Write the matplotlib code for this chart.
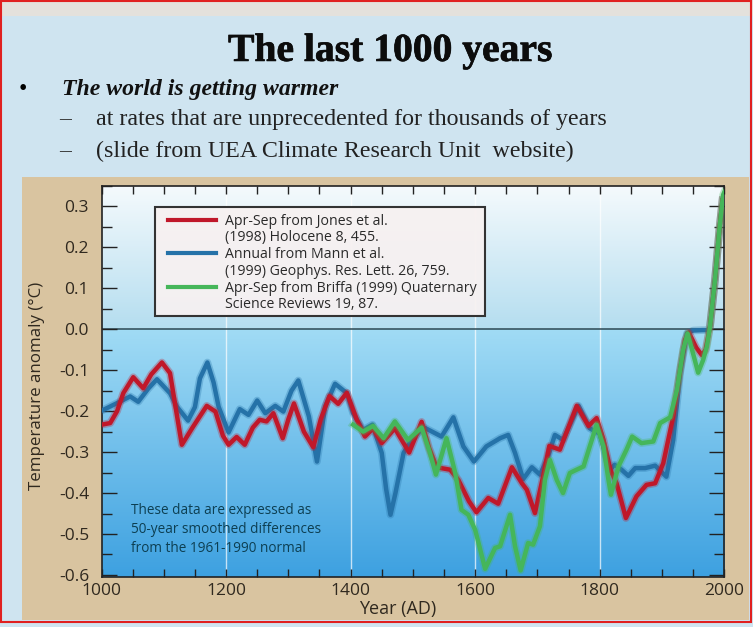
import numpy as np
import matplotlib
matplotlib.use("Agg")
import matplotlib.pyplot as plt
import matplotlib.patheffects as pe
from matplotlib.lines import Line2D
from matplotlib.patches import Rectangle
from matplotlib.ticker import MultipleLocator, FormatStrFormatter

# --- data ---
jones_years = [1000, 1014, 1025, 1035, 1051, 1067, 1080, 1097, 1110, 1120, 1129, 1147, 1169, 1183,
               1195, 1204, 1217, 1230, 1243, 1254, 1265, 1276, 1291, 1300, 1309, 1325, 1340, 1352,
               1366, 1380, 1394, 1410, 1423, 1436, 1450, 1471, 1494, 1514, 1526, 1538, 1560, 1573,
               1590, 1602, 1621, 1637, 1659, 1675, 1683, 1696, 1709, 1719, 1736, 1763, 1782, 1795,
               1806, 1817, 1827, 1842, 1859, 1875, 1889, 1902, 1918, 1929, 1937, 1943, 1955, 1964,
               1970, 1977, 1985, 1992, 1997]
jones_vals = [-0.233, -0.229, -0.200, -0.156, -0.117, -0.144, -0.110, -0.081, -0.107, -0.200, -0.282,
              -0.238, -0.187, -0.201, -0.260, -0.282, -0.263, -0.282, -0.240, -0.221, -0.225, -0.205,
              -0.266, -0.220, -0.181, -0.250, -0.288, -0.220, -0.163, -0.182, -0.155, -0.221, -0.262,
              -0.242, -0.278, -0.242, -0.301, -0.226, -0.290, -0.337, -0.343, -0.368, -0.420, -0.447,
              -0.412, -0.426, -0.337, -0.376, -0.392, -0.449, -0.360, -0.285, -0.294, -0.187, -0.236,
              -0.217, -0.270, -0.343, -0.376, -0.461, -0.408, -0.380, -0.376, -0.327, -0.213, -0.099,
              -0.026, -0.008, -0.045, -0.063, -0.050, 0.006, 0.120, 0.242, 0.315]

mann_years = [1000, 1024, 1046, 1059, 1075, 1089, 1110, 1121, 1139, 1150, 1158, 1170, 1180, 1188,
              1204, 1222, 1236, 1250, 1263, 1279, 1292, 1305, 1316, 1333, 1346, 1359, 1375, 1394,
              1404, 1420, 1435, 1450, 1457, 1464, 1472, 1485, 1498, 1517, 1546, 1565, 1581, 1598,
              1618, 1640, 1653, 1664, 1677, 1691, 1704, 1715, 1728, 1741, 1766, 1784, 1800, 1816,
              1824, 1835, 1846, 1857, 1873, 1889, 1907, 1918, 1929, 1940, 1950, 1965, 1974, 1977,
              1985, 1992, 1997]
mann_vals = [-0.199, -0.181, -0.164, -0.177, -0.145, -0.122, -0.156, -0.189, -0.223, -0.190, -0.120,
             -0.081, -0.130, -0.189, -0.252, -0.195, -0.209, -0.174, -0.205, -0.187, -0.201, -0.150,
             -0.125, -0.213, -0.323, -0.189, -0.133, -0.156, -0.205, -0.246, -0.233, -0.302, -0.390,
             -0.453, -0.400, -0.302, -0.270, -0.239, -0.262, -0.215, -0.286, -0.323, -0.286, -0.266,
             -0.258, -0.302, -0.366, -0.337, -0.355, -0.319, -0.258, -0.270, -0.187, -0.242, -0.255,
             -0.343, -0.331, -0.343, -0.358, -0.339, -0.339, -0.333, -0.360, -0.270, -0.107, -0.010,
             -0.003, -0.002, -0.002, 0.006, 0.120, 0.242, 0.315]

briffa_years = [1404, 1420, 1436, 1453, 1471, 1492, 1514, 1527, 1537, 1554, 1568, 1578, 1589, 1600,
                1616, 1632, 1640, 1656, 1664, 1673, 1685, 1693, 1704, 1712, 1720, 1731, 1741, 1752,
                1760, 1774, 1784, 1795, 1806, 1814, 1818, 1830, 1843, 1852, 1867, 1886, 1897, 1913,
                1924, 1934, 1941, 1950, 1958, 1966, 1972, 1977, 1985, 1992, 1998, 2000]
briffa_vals = [-0.233, -0.250, -0.236, -0.266, -0.225, -0.270, -0.240, -0.300, -0.355, -0.266, -0.351,
               -0.441, -0.453, -0.490, -0.585, -0.534, -0.530, -0.453, -0.530, -0.589, -0.522, -0.526,
               -0.481, -0.368, -0.319, -0.368, -0.400, -0.351, -0.345, -0.335, -0.286, -0.233, -0.286,
               -0.368, -0.404, -0.335, -0.294, -0.262, -0.278, -0.274, -0.229, -0.215, -0.148, -0.050,
               -0.010, -0.060, -0.106, -0.075, -0.042, 0.006, 0.120, 0.242, 0.328, 0.335]

legend_lines = ["Apr-Sep from Jones et al.", "(1998) Holocene 8, 455.",
                "Annual from Mann et al.", "(1999) Geophys. Res. Lett. 26, 759.",
                "Apr-Sep from Briffa (1999) Quaternary", "Science Reviews 19, 87."]

RED = "#c0182a"
BLUE = "#2572a8"
GREEN = "#45b65a"
SANS = ["Open Sans", "DejaVu Sans"]
SERIF = ["Liberation Serif", "DejaVu Serif"]

fig = plt.figure(figsize=(7.53, 6.27), dpi=100)
fig.patch.set_facecolor("#cfe4f0")

# slide decorations (behind the axes)
fig.patches.append(Rectangle((0, 1 - 16 / 627), 1, 16 / 627, transform=fig.transFigure,
                             facecolor="#e4e1dc", edgecolor="none", zorder=-2))
fig.patches.append(Rectangle((22 / 753, 7 / 627), 727 / 753, 443 / 627, transform=fig.transFigure,
                             facecolor="#d9c4a0", edgecolor="none", zorder=-1))
fig.patches.append(Rectangle((1 / 753, 5 / 627), 750 / 753, 621 / 627, transform=fig.transFigure,
                             facecolor="none", edgecolor="#e02020", linewidth=1.5, zorder=10))

fig.text(0.518, 0.918, "The last 1000 years", family=SERIF, weight="bold", fontsize=28.5,
         ha="center", va="center", color="#0c0c0c",
         path_effects=[pe.withStroke(linewidth=0.5, foreground="#0c0c0c")])
fig.text(0.025, 0.858, "\u2022", family=SERIF, fontsize=17, ha="left", va="center")
fig.text(0.082, 0.857, "The world is getting warmer", family=SERIF, weight="bold", style="italic",
         fontsize=17.1, ha="left", va="center", color="#111111")
fig.text(0.078, 0.810, "\u2013", family=SERIF, fontsize=17, ha="left", va="center", color="#333333")
fig.text(0.127, 0.810, "at rates that are unprecedented for thousands of years", family=SERIF,
         fontsize=17.3, ha="left", va="center", color="#222222")
fig.text(0.078, 0.758, "\u2013", family=SERIF, fontsize=17, ha="left", va="center", color="#333333")
fig.text(0.127, 0.758, "(slide from UEA Climate Research Unit  website)", family=SERIF,
         fontsize=17.3, ha="left", va="center", color="#222222")

ax = fig.add_axes([101.5 / 753, 50 / 627, 622.8 / 753, 391 / 627])
ylo, yhi = -0.605, 0.35

# background gradient: pale above zero, blue below
top = np.linspace(np.array([0.96, 0.98, 0.99]), np.array([0.71, 0.87, 0.94]), 100)
bot = np.linspace(np.array([0.63, 0.86, 0.96]), np.array([0.24, 0.63, 0.88]), 200)
ax.imshow(top[:, None, :], extent=[1000, 2000, 0, yhi], aspect="auto", zorder=0)
ax.imshow(bot[:, None, :], extent=[1000, 2000, ylo, 0], aspect="auto", zorder=0)
ax.set_xlim(1000, 2000)
ax.set_ylim(ylo, yhi)

for yr in [1200, 1400, 1600, 1800]:
    ax.axvline(yr, color="white", lw=1.0, alpha=0.7, zorder=1)
ax.axhline(0, color="#2d4853", lw=1.1, zorder=1)

def glow(c):
    return [pe.Stroke(linewidth=5.5, foreground=c, alpha=0.3), pe.Normal()]

ax.plot(mann_years, mann_vals, color=BLUE, lw=3.2, solid_joinstyle="round",
        path_effects=glow(BLUE), zorder=3)
ax.plot(jones_years, jones_vals, color=RED, lw=3.2, solid_joinstyle="round",
        path_effects=glow(RED), zorder=4)
ax.plot(briffa_years, briffa_vals, color=GREEN, lw=3.2, solid_joinstyle="round",
        path_effects=glow(GREEN), zorder=4.5)

ax.xaxis.set_major_locator(MultipleLocator(200))
ax.xaxis.set_minor_locator(MultipleLocator(50))
ax.yaxis.set_major_locator(MultipleLocator(0.1))
ax.yaxis.set_minor_locator(MultipleLocator(0.05))
ax.yaxis.set_major_formatter(FormatStrFormatter("%.1f"))
ax.tick_params(which="both", direction="in", top=True, right=True, colors="#222222", width=1)
ax.tick_params(axis="y", which="major", length=11, pad=9)
ax.tick_params(axis="y", which="minor", length=7)
ax.tick_params(axis="x", which="both", length=6, pad=4)
for lab in ax.get_xticklabels() + ax.get_yticklabels():
    lab.set_family(SANS)
    lab.set_fontsize(12.5)
    lab.set_color("#30291f")
for s in ax.spines.values():
    s.set_color("#222222")
    s.set_linewidth(1.2)

ax.set_xlabel("Year (AD)", family=SANS, fontsize=13, color="#30291f")
ax.xaxis.set_label_coords(0.476, -0.058)
ax.set_ylabel("Temperature anomaly (\u00b0C)", family=SANS, fontsize=12.2, color="#30291f")
ax.yaxis.set_label_coords(-0.09, 0.49)

# legend box drawn as its own patch, legend entries placed inside it
ax.add_patch(Rectangle((0.0859, 0.6675), 0.5299, 0.2788, transform=ax.transAxes,
                       facecolor="#f7f1f1", alpha=0.93, edgecolor="none", zorder=5.8))
ax.add_patch(Rectangle((0.0859, 0.6675), 0.5299, 0.2788, transform=ax.transAxes,
                       facecolor="none", edgecolor="#333333", linewidth=1.5, zorder=5.9))
handles = []
for c in [RED, BLUE, GREEN]:
    handles.append(Line2D([], [], color=c, lw=3))
    handles.append(Line2D([], [], color="none", lw=0))
leg = ax.legend(handles, legend_lines, loc="upper left", bbox_to_anchor=(0.1068, 0.929),
                prop={"family": SANS, "size": 10.2}, handlelength=3.4, handletextpad=0.6,
                labelspacing=0.12, borderpad=0, borderaxespad=0, frameon=False)
for t in leg.get_texts():
    t.set_color("#2a2a2a")
leg.set_zorder(6)

ax.text(0.047, 0.19, "These data are expressed as\n50-year smoothed differences\nfrom the 1961-1990 normal",
        transform=ax.transAxes, family=SANS, fontsize=9.8, color="#0d3f52", va="top", ha="left",
        linespacing=1.36, zorder=5)

fig.savefig("out.png", dpi=100, facecolor=fig.get_facecolor())
